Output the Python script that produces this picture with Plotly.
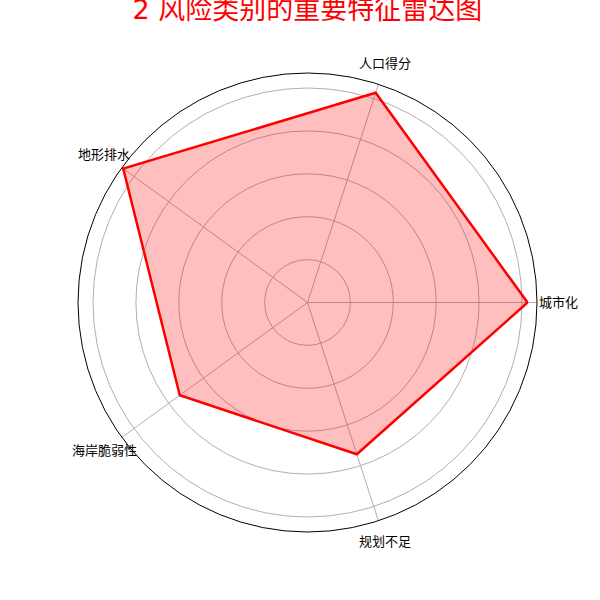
import math
import plotly.graph_objects as go

categories = ["城市化", "人口得分", "地形排水", "海岸脆弱性", "规划不足"]
values = [1.026, 1.028, 1.062, 0.736, 0.744]
radial_ticks = [0.2, 0.4, 0.6, 0.8, 1.0]
title_text = "2 风险类别的重要特征雷达图"

r_max = 1.07
label_r = 1.17

theta = categories + categories[:1]
r = values + values[:1]

fig = go.Figure()
fig.add_trace(go.Scatterpolar(
    r=r, theta=theta, mode="lines",
    line=dict(color="red", width=2.5),
    fill="toself", fillcolor="rgba(255,0,0,0.25)",
    hoverinfo="skip",
))

# category labels centred just outside the outer ring (matplotlib style)
n = len(categories)
for i, name in enumerate(categories):
    ang = 2 * math.pi * i / n
    off = 0.5 * label_r / r_max
    fig.add_annotation(
        text=name, xref="paper", yref="paper",
        x=0.5 + off * math.cos(ang), y=0.5 + off * math.sin(ang),
        xanchor="center", yanchor="middle", showarrow=False,
        font=dict(size=13, color="black"),
    )

font_family = "DejaVu Sans, Noto Sans CJK SC, sans-serif"
fig.update_layout(
    width=600, height=600,
    paper_bgcolor="white",
    showlegend=False,
    margin=dict(l=78, r=63, t=73, b=68),
    font=dict(family=font_family, size=13, color="black"),
    title=dict(text=title_text, x=0.5, xref="paper", xanchor="center",
               y=1.0, yref="container", yanchor="top",
               font=dict(family=font_family, size=27, color="red")),
    polar=dict(
        bgcolor="white",
        domain=dict(x=[0, 1], y=[0, 1]),
        radialaxis=dict(range=[0, r_max], tickvals=radial_ticks,
                        showticklabels=False, ticks="", showline=False,
                        gridcolor="#b0b0b0", gridwidth=1),
        angularaxis=dict(categoryorder="array", categoryarray=categories,
                         rotation=0, direction="counterclockwise",
                         showline=True, linecolor="black", linewidth=1,
                         gridcolor="#b0b0b0", gridwidth=1, ticks="",
                         showticklabels=False),
    ),
)

fig.write_html("out.html")
